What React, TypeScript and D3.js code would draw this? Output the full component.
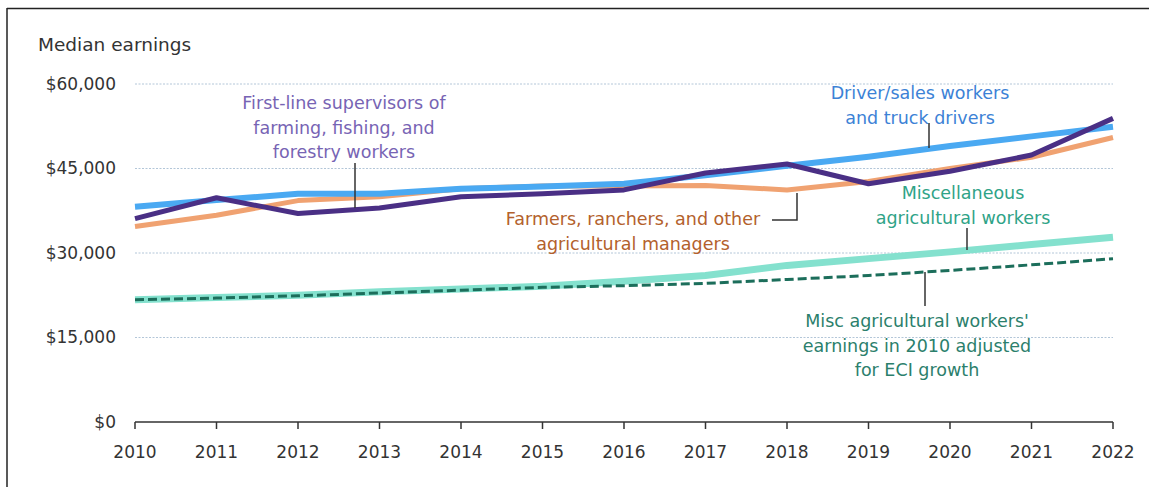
import React from "react";
import * as d3 from "d3";

const years = [2010, 2011, 2012, 2013, 2014, 2015, 2016, 2017, 2018, 2019, 2020, 2021, 2022];
const driverSales = [38200, 39400, 40500, 40500, 41400, 41800, 42300, 43800, 45500, 47100, 49000, 50700, 52400];
const supervisors = [36100, 39800, 37000, 38000, 40000, 40500, 41200, 44200, 45800, 42300, 44500, 47400, 53900];
const farmers = [34700, 36700, 39300, 40000, 41400, 41900, 41900, 42000, 41200, 42700, 45000, 47000, 50500];
const miscAg = [21700, 22100, 22500, 23100, 23600, 24100, 25000, 26000, 27800, 29000, 30200, 31500, 32800];
const miscEci = [21700, 22000, 22400, 22900, 23400, 23900, 24200, 24600, 25300, 26000, 26900, 27900, 29000];
const yTicks = [0, 15000, 30000, 45000, 60000];

const FONT = "'DejaVu Sans', sans-serif";

export default function App() {
  const W = 1149, H = 487;
  const x = d3.scaleLinear().domain([2010, 2022]).range([135, 1113]);
  const y = d3.scaleLinear().domain([0, 60000]).range([422, 84]);
  const line = d3.line<number>().x((_, i) => x(years[i])).y((v) => y(v));
  const fmt = (v: number) => "$" + d3.format(",")(v);

  const series = [
    { vals: miscAg, color: "#84E1CE", w: 7, dash: undefined },
    { vals: miscEci, color: "#1C6E5B", w: 3, dash: "9,4" },
    { vals: farmers, color: "#F0A271", w: 5, dash: undefined },
    { vals: driverSales, color: "#4AA9F2", w: 6, dash: undefined },
    { vals: supervisors, color: "#4A2F85", w: 5, dash: undefined },
  ];

  const labels = [
    { lines: ["First-line supervisors of", "farming, fishing, and", "forestry workers"], cx: 344, y0: 103, color: "#7764B4" },
    { lines: ["Driver/sales workers", "and truck drivers"], cx: 920, y0: 93, color: "#3C82D6" },
    { lines: ["Farmers, ranchers, and other", "agricultural managers"], cx: 633, y0: 219, color: "#B3612C" },
    { lines: ["Miscellaneous", "agricultural workers"], cx: 963, y0: 193, color: "#2FA387" },
    { lines: ["Misc agricultural workers'", "earnings in 2010 adjusted", "for ECI growth"], cx: 917, y0: 321, color: "#2C7F6C" },
  ];
  const leaders = [
    "M355,163V208",
    "M929,123V148",
    "M772,220H797V193",
    "M967,228V250",
    "M925,272V306",
  ];

  return (
    <div style={{ position: "fixed", left: 0, top: 0 }}>
      <svg width={W} height={H} style={{ display: "block", background: "#fff" }}>
        <line x1={7} y1={8.5} x2={W} y2={8.5} stroke="#222" strokeWidth={1.5} />
        <line x1={7} y1={8} x2={7} y2={H} stroke="#222" strokeWidth={1.5} />
        <text x={38} y={45} dy="0.35em" fontFamily={FONT} fontSize={18.5} fill="#333">Median earnings</text>
        {yTicks.map((t) => (
          <g key={t}>
            {t > 0 && (
              <line x1={x(2010)} x2={x(2022)} y1={y(t)} y2={y(t)} stroke="#B3C6D8" strokeWidth={1} strokeDasharray="2,1.5" />
            )}
            <text x={116} y={y(t)} dy="0.35em" textAnchor="end" fontFamily={FONT} fontSize={17} fill="#333">
              {fmt(t)}
            </text>
          </g>
        ))}
        {series.map((s, i) => (
          <path key={i} d={line(s.vals) || ""} fill="none" stroke={s.color} strokeWidth={s.w}
            strokeDasharray={s.dash} strokeLinejoin="round" />
        ))}
        {leaders.map((d, i) => (
          <path key={i} d={d} fill="none" stroke="#333" strokeWidth={1.5} />
        ))}
        {labels.map((l, i) => (
          <text key={i} fontFamily={FONT} fontSize={17.5} fill={l.color} textAnchor="middle">
            {l.lines.map((t, j) => (
              <tspan key={j} x={l.cx} y={l.y0 + j * 24.5} dy="0.35em">{t}</tspan>
            ))}
          </text>
        ))}
        <line x1={x(2010)} x2={x(2022)} y1={422} y2={422} stroke="#333" strokeWidth={1.5} />
        {years.map((yr) => (
          <g key={yr}>
            <line x1={x(yr)} x2={x(yr)} y1={422} y2={429} stroke="#333" strokeWidth={1.5} />
            <text x={x(yr)} y={452} dy="0.35em" textAnchor="middle" fontFamily={FONT} fontSize={17} fill="#333">
              {yr}
            </text>
          </g>
        ))}
      </svg>
    </div>
  );
}
